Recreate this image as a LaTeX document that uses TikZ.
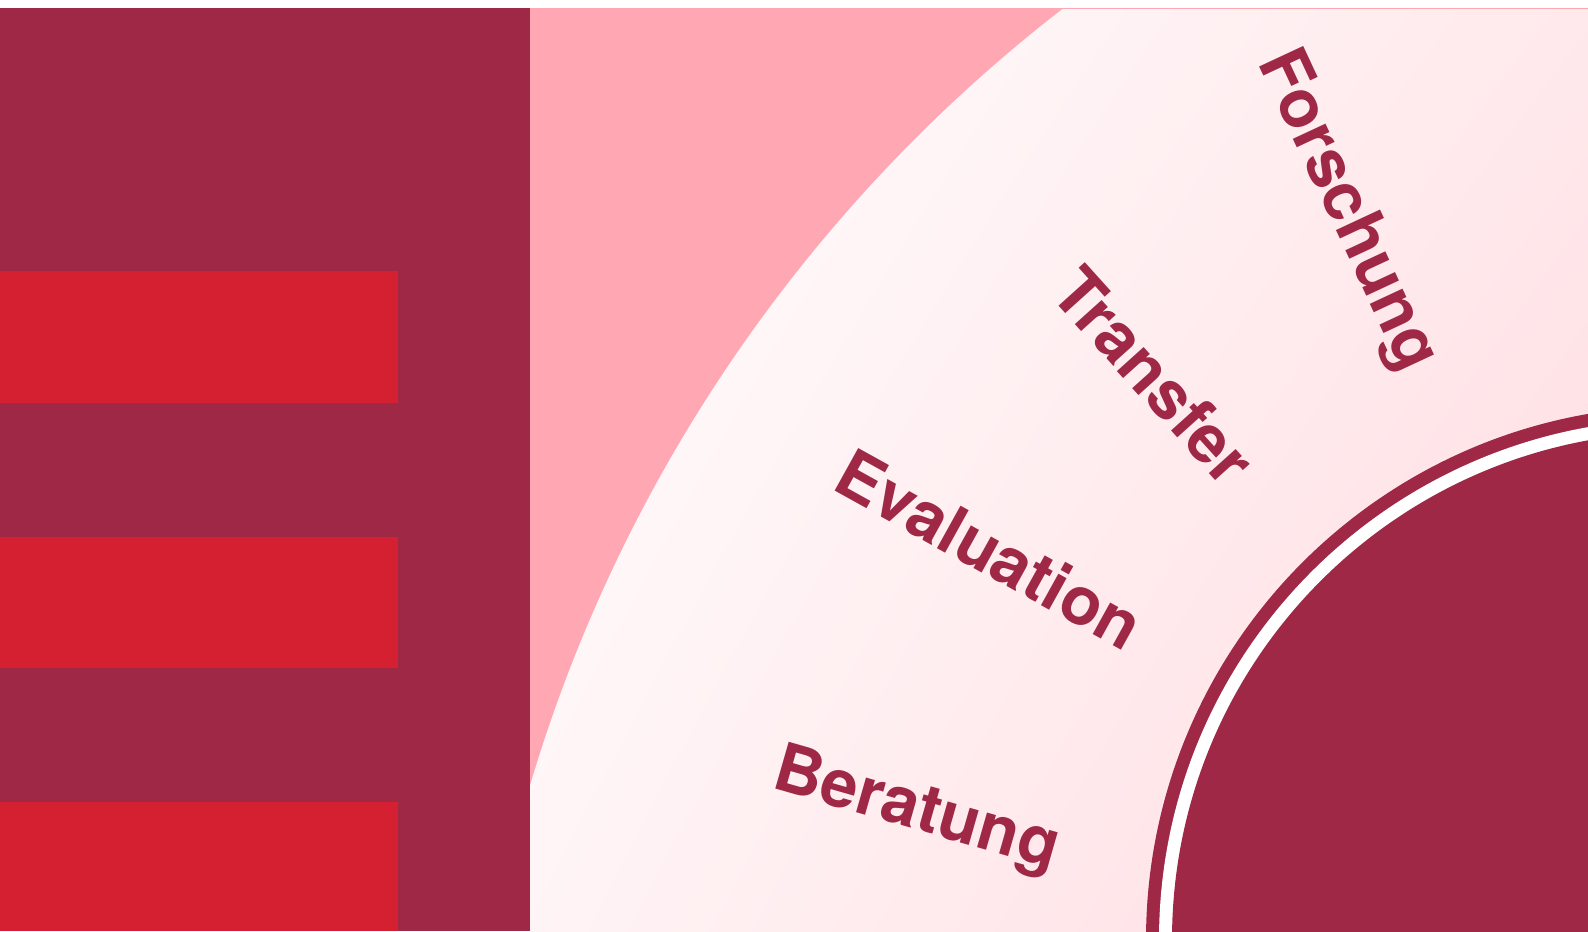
\documentclass[tikz,border=0pt]{standalone}
\usepackage{fontspec}
\setmainfont{TeX Gyre Heros}
\usetikzlibrary{shadings}

\definecolor{wine}{HTML}{9E2846}
\definecolor{signal}{HTML}{D42030}
\definecolor{rose}{HTML}{FFA8B4}
\definecolor{blush}{HTML}{FFDADF}

\tikzset{panel/.style={fill=wine,draw=none}}
\tikzset{bar/.style={fill=signal,draw=none}}
\tikzset{ringtext/.style={text=wine,inner sep=0pt,
                          font=\bfseries\fontsize{38}{44}\selectfont}}

\begin{document}
\begin{tikzpicture}[x=0.02cm,y=-0.02cm]
    \clip (0,0) rectangle (1588,931);
    \fill[white] (0,0) rectangle (1588,931);
    % left panel
    \fill[panel] (0,8) rectangle (530,931);
    \foreach \t/\b in {271/403,537/668,802/931}{%
          \fill[bar] (0,\t) rectangle (398,\b);
        }
    % right side
    \fill[rose] (530,8) rectangle (1588,931);
    \begin{scope}
        \clip (2000,1222) circle (1533);
        \shade[upper left=white,upper right=blush!60,
               lower left=blush!30,lower right=blush]
              (530,9) rectangle (1588,931);
    \end{scope}
    % inner circle
    \fill[panel] (1680,940) circle (534);
    \fill[white] (1680,940) circle (521);
    \fill[panel] (1680,940) circle (508);
    % Labels
    \foreach \n/\txt/\x/\y/\a in {forschung/Forschung/1346/211/-65,
                                  transfer/Transfer/1154/376/-48,
                                  evaluation/Evaluation/990/549/-29,
                                  beratung/Beratung/916/812/-16}{%
          \node[ringtext,rotate=\a] (\n) at (\x,\y) {\txt};
        }
\end{tikzpicture}
\end{document}
